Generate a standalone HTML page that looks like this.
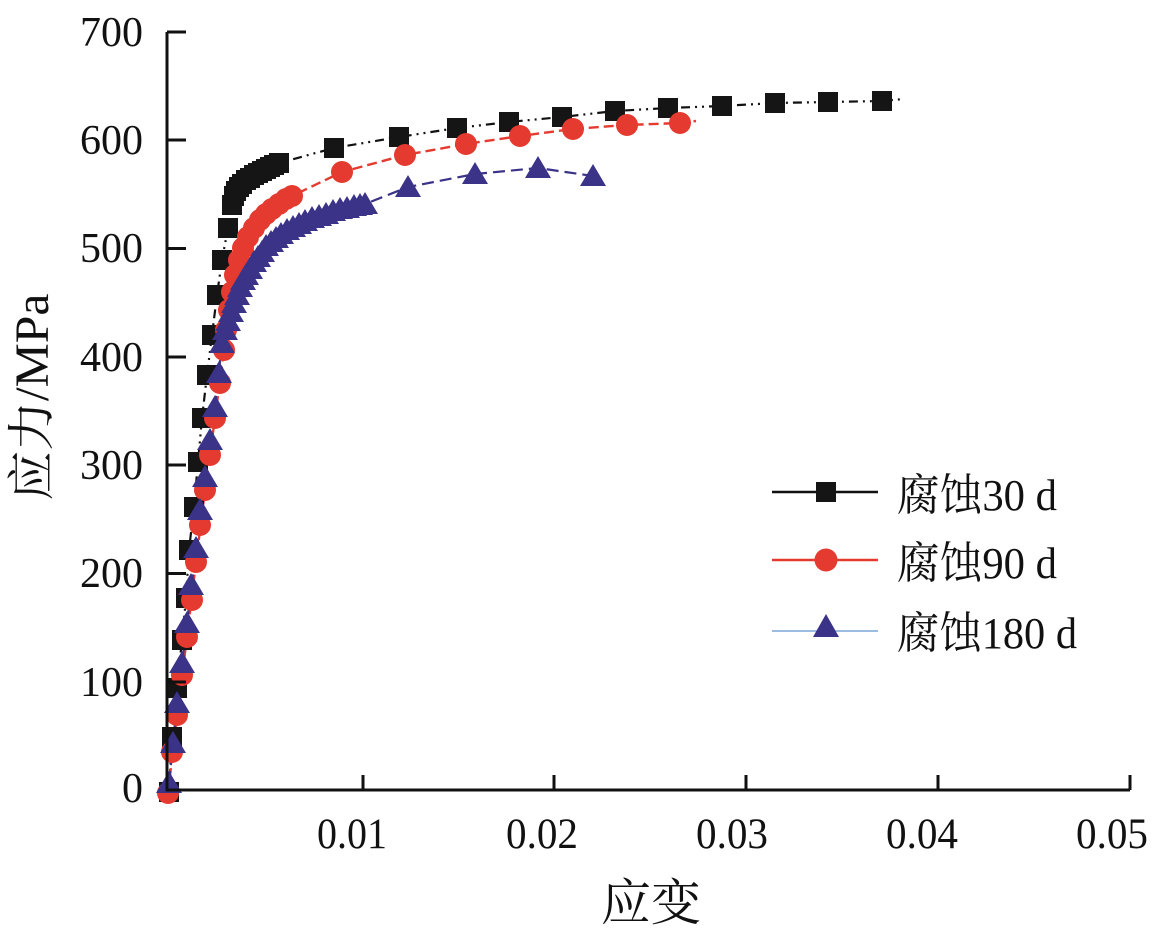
<!DOCTYPE html>
<html>
<head>
<meta charset="utf-8">
<style>
html,body{margin:0;padding:0;background:#fff}
svg{display:block}
text{font-family:"Liberation Serif","Noto Serif CJK SC",serif;fill:#111}
</style>
</head>
<body>
<svg width="1170" height="932" viewBox="0 0 1170 932" xmlns="http://www.w3.org/2000/svg">
<rect width="1170" height="932" fill="#fff"/>

<polyline fill="none" stroke="#111" stroke-width="2.2" stroke-dasharray="9 5 2 5 2 5" points="169,792 172,737 177,688 182,640 186,598 189,550 194,507 198,462 202,418 207,375 212,335 217,295 222,260 228,228 232,205 237,189 246,180 257,174 269,168 279,163 334,148 399,137 457,128 509,122 562,117 615,111 668,108 722,106 775,103 828,102 882,101 904,99"/>
<polyline fill="none" stroke="#e53a2f" stroke-width="2.4" stroke-dasharray="10 5" points="168,793 177,715 187,637 196,562 205,490 215,418 224,350 229,310 235,275 243,248 254,228 266,214 279,204 292,196 342,172 405,155 466,144 520,136 573,129 627,125 680,123 696,121"/>
<polyline fill="none" stroke="#3a3388" stroke-width="2.2" stroke-dasharray="12 6" points="169,783 177,703 187,623 196,548 205,477 215,407 222,343 229,318 237,295 246,275 257,258 270,243 285,232 301,223 319,216 337,210 355,206 365,204 408,187 475,174 538,168 593,176"/>

<path fill="#151515" d="M159 782h20v20h-20z M162 727h20v20h-20z M167 678h20v20h-20z M172 630h20v20h-20z M176 588h20v20h-20z M179 540h20v20h-20z M184 497h20v20h-20z M188 452h20v20h-20z M192 408h20v20h-20z M197 365h20v20h-20z M202 325h20v20h-20z M207 285h20v20h-20z M212 250h20v20h-20z M218 218h20v20h-20z M222 195h20v20h-20z M224 186h20v20h-20z M226 181h20v20h-20z M229 177h20v20h-20z M232 174h20v20h-20z M236 170h20v20h-20z M240 168h20v20h-20z M244 165h20v20h-20z M248 163h20v20h-20z M252 161h20v20h-20z M256 159h20v20h-20z M260 157h20v20h-20z M264 155h20v20h-20z M269 153h20v20h-20z M324 138h20v20h-20z M389 127h20v20h-20z M447 118h20v20h-20z M499 112h20v20h-20z M552 107h20v20h-20z M605 101h20v20h-20z M658 98h20v20h-20z M712 96h20v20h-20z M765 93h20v20h-20z M818 92h20v20h-20z M872 91h20v20h-20z"/>

<path fill="#e53a2f" d="M157 793a11 11 0 1 0 22 0a11 11 0 1 0-22 0 M161 752a11 11 0 1 0 22 0a11 11 0 1 0-22 0 M166 715a11 11 0 1 0 22 0a11 11 0 1 0-22 0 M171 675a11 11 0 1 0 22 0a11 11 0 1 0-22 0 M176 637a11 11 0 1 0 22 0a11 11 0 1 0-22 0 M181 600a11 11 0 1 0 22 0a11 11 0 1 0-22 0 M185 562a11 11 0 1 0 22 0a11 11 0 1 0-22 0 M189 525a11 11 0 1 0 22 0a11 11 0 1 0-22 0 M194 490a11 11 0 1 0 22 0a11 11 0 1 0-22 0 M199 455a11 11 0 1 0 22 0a11 11 0 1 0-22 0 M204 418a11 11 0 1 0 22 0a11 11 0 1 0-22 0 M209 383a11 11 0 1 0 22 0a11 11 0 1 0-22 0 M213 350a11 11 0 1 0 22 0a11 11 0 1 0-22 0 M215 330a11 11 0 1 0 22 0a11 11 0 1 0-22 0 M218 310a11 11 0 1 0 22 0a11 11 0 1 0-22 0 M221 292a11 11 0 1 0 22 0a11 11 0 1 0-22 0 M224 275a11 11 0 1 0 22 0a11 11 0 1 0-22 0 M228 260a11 11 0 1 0 22 0a11 11 0 1 0-22 0 M232 248a11 11 0 1 0 22 0a11 11 0 1 0-22 0 M237 237a11 11 0 1 0 22 0a11 11 0 1 0-22 0 M243 228a11 11 0 1 0 22 0a11 11 0 1 0-22 0 M249 220a11 11 0 1 0 22 0a11 11 0 1 0-22 0 M255 214a11 11 0 1 0 22 0a11 11 0 1 0-22 0 M261 209a11 11 0 1 0 22 0a11 11 0 1 0-22 0 M268 204a11 11 0 1 0 22 0a11 11 0 1 0-22 0 M275 199a11 11 0 1 0 22 0a11 11 0 1 0-22 0 M281 196a11 11 0 1 0 22 0a11 11 0 1 0-22 0 M331 172a11 11 0 1 0 22 0a11 11 0 1 0-22 0 M394 155a11 11 0 1 0 22 0a11 11 0 1 0-22 0 M455 144a11 11 0 1 0 22 0a11 11 0 1 0-22 0 M509 136a11 11 0 1 0 22 0a11 11 0 1 0-22 0 M562 129a11 11 0 1 0 22 0a11 11 0 1 0-22 0 M616 125a11 11 0 1 0 22 0a11 11 0 1 0-22 0 M669 123a11 11 0 1 0 22 0a11 11 0 1 0-22 0"/>

<path fill="#3a3388" d="M169 771l13 22h-26z M173 731l13 22h-26z M177 691l13 22h-26z M182 651l13 22h-26z M187 611l13 22h-26z M191 573l13 22h-26z M196 536l13 22h-26z M200 498l13 22h-26z M205 465l13 22h-26z M210 428l13 22h-26z M215 395l13 22h-26z M219 361l13 22h-26z M222 331l13 22h-26z M225 318l13 22h-26z M228 309l13 22h-26z M231 300l13 22h-26z M234 291l13 22h-26z M237 283l13 22h-26z M240 275l13 22h-26z M243 268l13 22h-26z M246 263l13 22h-26z M250 257l13 22h-26z M254 250l13 22h-26z M258 245l13 22h-26z M262 240l13 22h-26z M266 234l13 22h-26z M271 230l13 22h-26z M276 226l13 22h-26z M281 222l13 22h-26z M287 218l13 22h-26z M293 215l13 22h-26z M299 212l13 22h-26z M305 209l13 22h-26z M312 206l13 22h-26z M319 204l13 22h-26z M326 202l13 22h-26z M333 199l13 22h-26z M340 197l13 22h-26z M347 196l13 22h-26z M354 194l13 22h-26z M360 193l13 22h-26z M365 192l13 22h-26z M408 175l13 22h-26z M475 162l13 22h-26z M538 156l13 22h-26z M593 164l13 22h-26z"/>

<path fill="none" stroke="#111" stroke-width="3" d="M167 32V790H1130 M167 32h19 M167 140h19 M167 248.5h19 M167 357h19 M167 465h19 M167 573.5h19 M167 682h19 M363 790v-15 M554 790v-15 M746 790v-15 M938 790v-15 M1130 790v-15"/>

<g font-size="42" text-anchor="end">
<text x="143" y="46">700</text>
<text x="143" y="154">600</text>
<text x="143" y="262">500</text>
<text x="143" y="371">400</text>
<text x="143" y="479">300</text>
<text x="143" y="587">200</text>
<text x="143" y="696">100</text>
<text x="143" y="802">0</text>
</g>

<g font-size="43" text-anchor="middle">
<text x="352" y="848" textLength="70" lengthAdjust="spacingAndGlyphs">0.01</text>
<text x="542" y="848" textLength="72" lengthAdjust="spacingAndGlyphs">0.02</text>
<text x="732" y="848" textLength="72" lengthAdjust="spacingAndGlyphs">0.03</text>
<text x="922" y="848" textLength="72" lengthAdjust="spacingAndGlyphs">0.04</text>
<text x="1112" y="848" textLength="72" lengthAdjust="spacingAndGlyphs">0.05</text>
</g>

<text x="651" y="920" font-size="50" text-anchor="middle">应变</text>
<text transform="translate(48,397) rotate(-90)" font-size="48" text-anchor="middle" textLength="207" lengthAdjust="spacingAndGlyphs">应力/MPa</text>

<line x1="772" y1="492" x2="878" y2="492" stroke="#111" stroke-width="2.5"/>
<rect x="816" y="482" width="20" height="20" fill="#151515"/>
<line x1="772" y1="560" x2="878" y2="560" stroke="#e53a2f" stroke-width="2.5"/>
<circle cx="826" cy="560" r="11.5" fill="#e53a2f"/>
<line x1="772" y1="631" x2="878" y2="631" stroke="#7ba7d9" stroke-width="1.5"/>
<polygon points="826,614 839,637 813,637" fill="#3a3388"/>

<g font-size="44">
<text x="897" y="510" textLength="160" lengthAdjust="spacingAndGlyphs">腐蚀30 d</text>
<text x="897" y="578" textLength="160" lengthAdjust="spacingAndGlyphs">腐蚀90 d</text>
<text x="897" y="648" textLength="180" lengthAdjust="spacingAndGlyphs">腐蚀180 d</text>
</g>
</svg>
</body>
</html>
